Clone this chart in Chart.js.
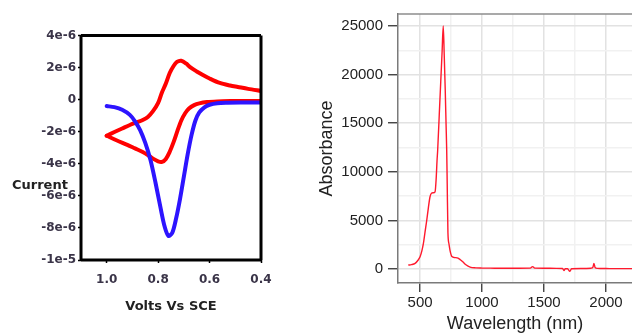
<!DOCTYPE html>
<html>
<head>
<meta charset="utf-8">
<script src="https://cdn.jsdelivr.net/npm/chart.js@4.4.0/dist/chart.umd.min.js"></script>
<style>
  html, body { margin: 0; padding: 0; background: #fff; }
  #wrap { position: relative; width: 632px; height: 333px; overflow: hidden; }
  #cv { position: absolute; left: 0; top: 0; }
  #abs { position: absolute; left: 300px; top: 0; }
</style>
</head>
<body>
<div id="wrap">
  <canvas id="cv" width="300" height="333"></canvas>
  <canvas id="abs" width="332" height="333"></canvas>
</div>
<script>
// ---- cyclic voltammogram (left panel), currents in microamps ----
const redUpV = [1.00, 0.97, 0.94, 0.91, 0.88, 0.86, 0.84, 0.82, 0.80, 0.786, 0.77, 0.755, 0.74, 0.727, 0.71, 0.69, 0.677, 0.65, 0.626, 0.60, 0.56, 0.52, 0.49, 0.45, 0.40];
const redUpI = [-2.25, -2.02, -1.80, -1.58, -1.40, -1.27, -1.08, -0.72, -0.20, 0.42, 1.00, 1.66, 2.10, 2.35, 2.42, 2.24, 2.04, 1.76, 1.54, 1.32, 1.04, 0.88, 0.79, 0.67, 0.54];
const redLoV = [0.40, 0.46, 0.52, 0.57, 0.61, 0.64, 0.66, 0.68, 0.695, 0.71, 0.725, 0.74, 0.755, 0.77, 0.785, 0.80, 0.82, 0.84, 0.86, 0.89, 0.92, 0.96, 1.00];
const redLoI = [-0.08, -0.08, -0.09, -0.11, -0.15, -0.23, -0.34, -0.55, -0.85, -1.30, -1.95, -2.65, -3.25, -3.70, -3.88, -3.85, -3.68, -3.45, -3.26, -3.04, -2.82, -2.55, -2.25];
const blueV = [1.00, 0.97, 0.94, 0.91, 0.89, 0.87, 0.85, 0.83, 0.81, 0.79, 0.775, 0.76, 0.745, 0.73, 0.715, 0.70, 0.685, 0.67, 0.655, 0.64, 0.62, 0.60, 0.57, 0.53, 0.48, 0.40];
const blueI = [-0.40, -0.47, -0.63, -0.95, -1.35, -1.90, -2.70, -3.75, -5.20, -6.80, -7.90, -8.50, -8.30, -7.40, -6.20, -4.80, -3.40, -2.20, -1.30, -0.80, -0.48, -0.32, -0.22, -0.19, -0.18, -0.18];

const cvXTicks = [1.0, 0.8, 0.6, 0.4];
const cvXLabels = ['1.0', '0.8', '0.6', '0.4'];
const cvYTicks = [4e-6, 2e-6, 0, -2e-6, -4e-6, -6e-6, -8e-6, -1e-5];
const cvYLabels = ['4e-6', '2e-6', '0', '-2e-6', '-4e-6', '-6e-6', '-8e-6', '-1e-5'];

// ---- absorbance spectrum (right panel) ----
const specWl = [405, 430, 460, 480, 500, 515, 527, 540, 554, 567, 580, 592, 606, 621, 630, 637, 642, 655, 667, 678, 687, 695, 703, 710, 715, 719, 725, 733, 742, 757, 780, 806, 825, 847, 870, 904, 950, 1000, 1100, 1200, 1300, 1390, 1408, 1425, 1500, 1600, 1650, 1661, 1672, 1690, 1709, 1722, 1800, 1880, 1895, 1903, 1912, 1930, 2000, 2100, 2210];
const specAbs = [410, 450, 580, 850, 1260, 1900, 2630, 3800, 5020, 6300, 7410, 7800, 7850, 7950, 9300, 11170, 12200, 15900, 19300, 22400, 25000, 22000, 18500, 14800, 12200, 8800, 3700, 2600, 1900, 1280, 1180, 1130, 960, 720, 440, 200, 120, 100, 90, 80, 85, 100, 250, 100, 85, 70, 60, -150, 40, 30, -230, 30, 50, 90, 200, 580, 160, 70, 50, 40, 40];

const specXMajor = [500, 1000, 1500, 2000];
const specXMinor = [750, 1250, 1750];
const specYMajor = [0, 5000, 10000, 15000, 20000, 25000];
const specYMinor = [2500, 7500, 12500, 17500, 22500];

const pts = (xs, ys, k = 1) => xs.map((x, i) => ({ x, y: ys[i] * k }));
const setTicks = vals => axis => { axis.ticks = vals.slice().sort((a, b) => a - b).map(v => ({ value: v })); };

// box / edge lines around the plot area
const frame = {
  id: 'frame',
  afterDatasetsDraw(chart, args, o) {
    const { ctx, chartArea: a } = chart;
    ctx.save();
    ctx.strokeStyle = o.color; ctx.lineWidth = o.width;
    ctx.beginPath();
    if (o.sides.includes('t')) { ctx.moveTo(a.left, a.top); ctx.lineTo(a.right, a.top); }
    if (o.sides.includes('r')) { ctx.moveTo(a.right, a.top); ctx.lineTo(a.right, a.bottom); }
    if (o.sides.includes('b')) { ctx.moveTo(a.left, a.bottom); ctx.lineTo(a.right, a.bottom); }
    if (o.sides.includes('l')) { ctx.moveTo(a.left, a.top); ctx.lineTo(a.left, a.bottom); }
    ctx.stroke();
    ctx.restore();
  }
};

// horizontal y label ("Current") sitting over the tick labels
const sideLabel = {
  id: 'sideLabel',
  afterDraw(chart, args, o) {
    if (!o.text) return;
    const ctx = chart.ctx;
    ctx.save();
    ctx.font = o.font; ctx.fillStyle = o.color;
    ctx.textBaseline = 'middle'; ctx.textAlign = 'left';
    ctx.fillText(o.text, o.x, o.y);
    ctx.restore();
  }
};

const cvTick = { family: 'DejaVu Sans', size: 12, weight: 'bold' };

new Chart(document.getElementById('cv'), {
  type: 'scatter',
  data: {
    datasets: [
      { data: pts(blueV, blueI, 1e-6), borderColor: 'rgb(45,20,255)', showLine: true, order: 0 },
      { data: pts(redUpV, redUpI, 1e-6), borderColor: 'rgb(255,0,0)', showLine: true, order: 1 },
      { data: pts(redLoV, redLoI, 1e-6), borderColor: 'rgb(255,0,0)', showLine: true, order: 1 }
    ]
  },
  options: {
    responsive: false, animation: false, events: [],
    layout: { padding: { top: 35.5, right: 39, left: 0, bottom: 0 } },
    elements: {
      point: { radius: 0 },
      line: { borderWidth: 4, tension: 0.3, borderCapStyle: 'round', borderJoinStyle: 'round' }
    },
    plugins: {
      legend: { display: false }, tooltip: { enabled: false },
      frame: { color: '#000', width: 3, sides: 'trbl' },
      sideLabel: { text: 'Current', x: 12, y: 186, font: 'bold 13px "DejaVu Sans"', color: '#222' }
    },
    scales: {
      x: {
        type: 'linear', reverse: true, min: 0.4, max: 1.1,
        afterBuildTicks: setTicks(cvXTicks),
        afterFit: s => { s.height = 73; },
        ticks: { callback: v => cvXLabels[cvXTicks.indexOf(v)], font: cvTick, color: '#3a3448', padding: 10, autoSkip: false, maxRotation: 0 },
        grid: { drawOnChartArea: false, drawTicks: true, tickLength: 3, tickColor: '#000', tickWidth: 1.5 },
        border: { display: false },
        title: { display: true, text: 'Volts Vs SCE', color: '#222',
                 font: { family: 'DejaVu Sans', size: 13, weight: 'bold', lineHeight: 1 }, padding: { top: 0, bottom: 19.5 } }
      },
      y: {
        type: 'linear', min: -1e-5, max: 4e-6,
        afterBuildTicks: setTicks(cvYTicks),
        afterFit: s => { s.width = 81; },
        ticks: { callback: v => cvYLabels[cvYTicks.indexOf(v)], font: cvTick, color: '#3a3448', padding: 2, autoSkip: false },
        grid: { drawOnChartArea: false, drawTicks: true, tickLength: 3, tickColor: '#000', tickWidth: 1.5 },
        border: { display: false }
      }
    }
  },
  plugins: [frame, sideLabel]
});

const specTick = { family: 'Liberation Sans', size: 15 };
const isMajor = list => c => c.tick && list.includes(c.tick.value);

new Chart(document.getElementById('abs'), {
  type: 'scatter',
  data: {
    datasets: [
      { data: pts(specWl, specAbs), borderColor: 'rgb(255,25,45)', borderWidth: 1.4, showLine: true, cubicInterpolationMode: 'monotone' }
    ]
  },
  options: {
    responsive: false, animation: false, events: [],
    layout: { padding: { top: 13, right: 0, left: 0, bottom: 0 } },
    elements: { point: { radius: 0 } },
    plugins: {
      legend: { display: false }, tooltip: { enabled: false },
      frame: { color: '#8c8c8c', width: 1.5, sides: 't' }
    },
    scales: {
      x: {
        type: 'linear', min: 322, max: 2210,
        afterBuildTicks: setTicks(specXMajor.concat(specXMinor)),
        afterFit: s => { s.height = 50; },
        ticks: { callback: v => specXMajor.includes(v) ? String(v) : '', font: specTick, color: '#222', padding: 2, autoSkip: false, maxRotation: 0 },
        grid: {
          color: c => isMajor(specXMajor)(c) ? '#e2e2e2' : '#f1f1f1', lineWidth: 1.5,
          tickColor: c => isMajor(specXMajor)(c) ? '#333' : 'rgba(0,0,0,0)', tickLength: 9, tickWidth: 1.3
        },
        border: { display: true, color: '#7a7a7a', width: 1.5 },
        title: { display: true, text: 'Wavelength (nm)', color: '#222',
                 font: { family: 'Liberation Sans', size: 18, lineHeight: 1 }, padding: { top: 0, bottom: 0 } }
      },
      y: {
        type: 'linear', min: -1434, max: 26230,
        afterBuildTicks: setTicks(specYMajor.concat(specYMinor)),
        afterFit: s => { s.width = 98; },
        ticks: { callback: v => specYMajor.includes(v) ? String(v) : '', font: specTick, color: '#222', padding: 5, autoSkip: false },
        grid: {
          color: c => isMajor(specYMajor)(c) ? '#e2e2e2' : '#f1f1f1', lineWidth: 1.5,
          tickColor: c => isMajor(specYMajor)(c) ? '#333' : 'rgba(0,0,0,0)', tickLength: 10, tickWidth: 1.3
        },
        border: { display: true, color: '#7a7a7a', width: 1.5 },
        title: { display: true, text: 'Absorbance', color: '#222',
                 font: { family: 'Liberation Sans', size: 18, lineHeight: 1 }, padding: { top: 18, bottom: 0 } }
      }
    }
  },
  plugins: [frame]
});
</script>
</body>
</html>
